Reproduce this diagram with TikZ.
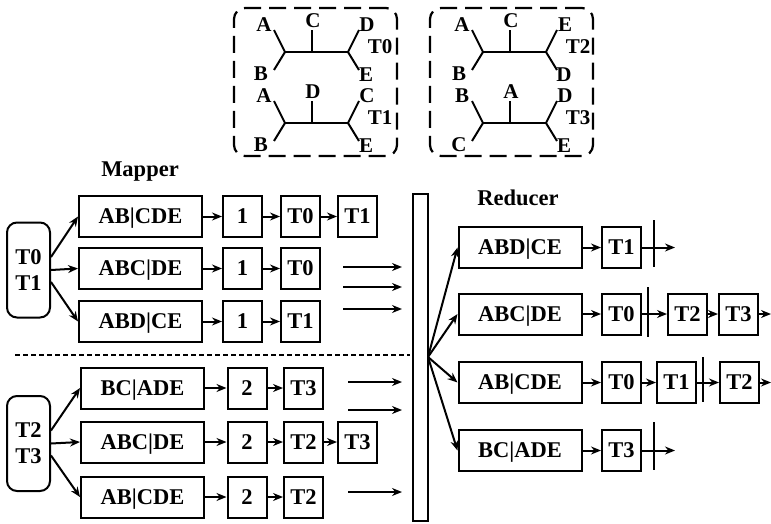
\documentclass[tikz,border=0pt]{standalone}
\usepackage{fontspec}
\setmainfont{Liberation Serif}
\usetikzlibrary{arrows.meta}

\tikzset{
  pbox/.style={draw, line width=2pt, minimum width=123pt, minimum height=41pt, inner sep=0pt, text height=14.5pt, text depth=0pt, font=\bfseries\fontsize{22.5}{26}\selectfont},
  tbox/.style={draw, line width=2pt, minimum width=39pt, minimum height=41pt, inner sep=0pt, text height=14.5pt, text depth=0pt, font=\bfseries\fontsize{22.5}{26}\selectfont},
  grp/.style={draw, line width=2pt, rounded corners=10pt, minimum width=43pt, minimum height=95pt, inner sep=0pt, align=center, font=\bfseries\fontsize{22.5}{26}\selectfont},
  treebox/.style={draw, line width=2.2pt, rounded corners=11pt, dash pattern=on 17pt off 8pt, minimum width=163pt, minimum height=148pt},
  link/.style={line width=2pt, -{Stealth[length=10pt,width=8pt]}},
  tick/.style={line width=2pt},
  lbl/.style={inner sep=0pt, font=\bfseries\fontsize{21}{24}\selectfont},
  title/.style={inner sep=0pt, font=\bfseries\fontsize{22.5}{26}\selectfont},
}

% one unrooted tree: x, y, top left, bottom left, middle, top right, bottom right, name
\newcommand{\phylo}[8]{%
  \begin{scope}[shift={(#1,#2)}]
    \draw[tick] (-11,-22) -- (0,0) -- (-11,18);
    \draw[tick] (0,0) -- (63,0);
    \draw[tick] (27,0) -- (27,-22);
    \draw[tick] (74,-22) -- (63,0) -- (74,18);
    \node[lbl] (#8tl) at (-21,-27) {#3};
    \node[lbl] (#8bl) at (-24,22) {#4};
    \node[lbl] (#8m) at (28,-31) {#5};
    \node[lbl] (#8tr) at (82,-27) {#6};
    \node[lbl] (#8br) at (81,23) {#7};
    \node[lbl] (#8n) at (95,-5) {#8};
  \end{scope}}

\begin{document}
\begin{tikzpicture}[x=1pt,y=-1pt]
\useasboundingbox (0,0) rectangle (771,524);

% trees
\node[treebox] (boxA) at (315.5,82) {};
\node[treebox] (boxB) at (511.5,82) {};
\phylo{285}{52}{A}{B}{C}{D}{E}{T0}
\phylo{285}{123}{A}{B}{D}{C}{E}{T1}
\phylo{483}{52}{A}{B}{C}{E}{D}{T2}
\phylo{483}{123}{B}{C}{A}{D}{E}{T3}

% mapper
\node[title] (mapper) at (140,172) {Mapper};
\node[grp] (grpA) at (28.5,270) {T0\\T1};
\node[grp] (grpB) at (28.5,443.5) {T2\\T3};

\node[pbox] (m1) at (140.5,216.5) {AB|CDE};
\node[tbox] (m1a) at (242.5,216.5) {1};
\node[tbox] (m1b) at (300.5,216.5) {T0};
\node[tbox] (m1c) at (357.5,216.5) {T1};
\node[pbox] (m2) at (140.5,268.5) {ABC|DE};
\node[tbox] (m2a) at (242.5,268.5) {1};
\node[tbox] (m2b) at (300.5,268.5) {T0};
\node[pbox] (m3) at (140.5,321.5) {ABD|CE};
\node[tbox] (m3a) at (242.5,321.5) {1};
\node[tbox] (m3b) at (300.5,321.5) {T1};

\node[pbox] (m4) at (142.5,388) {BC|ADE};
\node[tbox] (m4a) at (247,388) {2};
\node[tbox] (m4b) at (303.5,388) {T3};
\node[pbox] (m5) at (142.5,442) {ABC|DE};
\node[tbox] (m5a) at (247,442) {2};
\node[tbox] (m5b) at (303.5,442) {T2};
\node[tbox] (m5c) at (357.5,442) {T3};
\node[pbox] (m6) at (142.5,497) {AB|CDE};
\node[tbox] (m6a) at (247,497) {2};
\node[tbox] (m6b) at (303.5,497) {T2};

\draw[link] ([yshift=13pt]grpA.east) -- (m1.west);
\draw[link] (grpA.east) -- (m2.west);
\draw[link] ([yshift=-12pt]grpA.east) -- (m3.west);
\draw[link] ([yshift=13pt]grpB.east) -- (m4.west);
\draw[link] (grpB.east) -- (m5.west);
\draw[link] ([yshift=-12pt]grpB.east) -- (m6.west);

\draw[link] (m1) -- (m1a);
\draw[link] (m1a) -- (m1b);
\draw[link] (m1b) -- (m1c);
\draw[link] (m2) -- (m2a);
\draw[link] (m2a) -- (m2b);
\draw[link] (m3) -- (m3a);
\draw[link] (m3a) -- (m3b);
\draw[link] (m4) -- (m4a);
\draw[link] (m4a) -- (m4b);
\draw[link] (m5) -- (m5a);
\draw[link] (m5a) -- (m5b);
\draw[link] (m5b) -- (m5c);
\draw[link] (m6) -- (m6a);
\draw[link] (m6a) -- (m6b);

\draw[line width=2.2pt, dash pattern=on 5pt off 3pt] (15,355) -- (410,355);

% shuffle
\foreach \y [count=\i] in {267,287,309}{
  \coordinate (ua\i) at (343,\y);
  \coordinate (ub\i) at (402,\y);
  \draw[link] (ua\i) -- (ub\i);
}
\foreach \y [count=\i] in {382,410,492}{
  \coordinate (la\i) at (348,\y);
  \coordinate (lb\i) at (402,\y);
  \draw[link] (la\i) -- (lb\i);
}
\node[draw, line width=2pt, minimum width=15pt, minimum height=327pt, inner sep=0pt] (bar) at (420.5,357.5) {};
\coordinate (hub) at (428,357);

% reducer
\node[title] (reducer) at (518,198) {Reducer};
\node[pbox] (r1) at (520,247.5) {ABD|CE};
\node[tbox] (r1a) at (621.5,247.5) {T1};
\node[pbox] (r2) at (520,314) {ABC|DE};
\node[tbox] (r2a) at (621.5,314) {T0};
\node[tbox] (r2b) at (687.5,314) {T2};
\node[tbox] (r2c) at (738.5,314) {T3};
\node[pbox] (r3) at (520,382.5) {AB|CDE};
\node[tbox] (r3a) at (621.5,382.5) {T0};
\node[tbox] (r3b) at (676.5,382.5) {T1};
\node[tbox] (r3c) at (739.5,382.5) {T2};
\node[pbox] (r4) at (520,450.5) {BC|ADE};
\node[tbox] (r4a) at (621.5,450.5) {T3};

\foreach \r in {r1,r2,r3,r4}
  \draw[link] (hub) -- (\r.west);

\coordinate (r1out) at (675,247.5);
\coordinate (r2out) at (771,314);
\coordinate (r3out) at (771,382.5);
\coordinate (r4out) at (675,450.5);

\draw[link] (r1) -- (r1a);
\draw[link] (r1a) -- (r1out);
\draw[link] (r2) -- (r2a);
\draw[link] (r2a) -- (r2b);
\draw[link] (r2b) -- (r2c);
\draw[link] (r2c) -- (r2out);
\draw[link] (r3) -- (r3a);
\draw[link] (r3a) -- (r3b);
\draw[link] (r3b) -- (r3c);
\draw[link] (r3c) -- (r3out);
\draw[link] (r4) -- (r4a);
\draw[link] (r4a) -- (r4out);

\draw[tick] (654,220) -- (654,267);
\draw[tick] (648,287) -- (648,337);
\draw[tick] (703,357) -- (703,402);
\draw[tick] (654,422) -- (654,470);
\end{tikzpicture}
\end{document}
